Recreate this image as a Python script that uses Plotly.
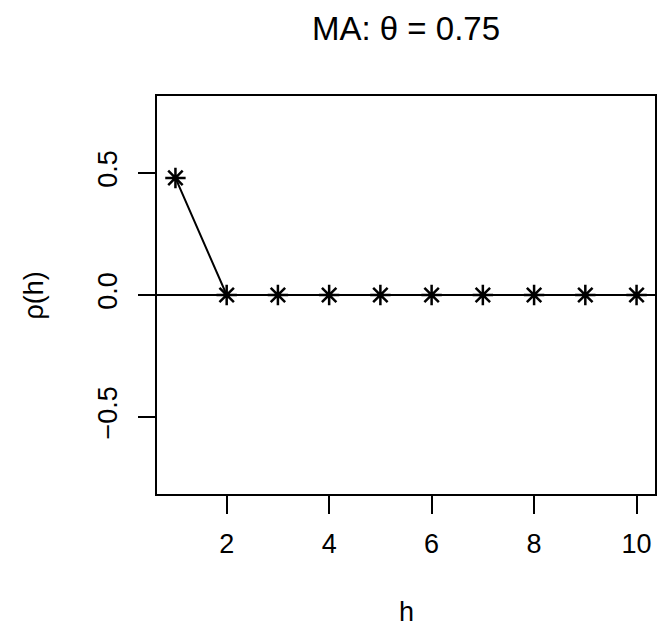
import plotly.graph_objects as go

# MA(1) autocorrelation function, theta = 0.75
lags = [1, 2, 3, 4, 5, 6, 7, 8, 9, 10]
acf_values = [0.48, 0.0, 0.0, 0.0, 0.0, 0.0, 0.0, 0.0, 0.0, 0.0]
x_ticks = [2, 4, 6, 8, 10]
y_ticks = [-0.5, 0.0, 0.5]
y_tick_text = ["\u22120.5", "0.0", "0.5"]

W, H = 658, 629
ML, MR, MT, MB = 157, 1, 96, 135
FONT = "Liberation Sans, Arial, Helvetica, sans-serif"

fig = go.Figure()

# horizontal reference line at zero
fig.add_shape(type="line", xref="paper", yref="y", x0=0, x1=1, y0=0, y1=0,
              line=dict(color="black", width=2), layer="above")

fig.add_trace(go.Scatter(
    x=lags, y=acf_values, mode="lines+markers",
    line=dict(color="black", width=2),
    marker=dict(symbol="asterisk-open", size=17, color="black",
                line=dict(color="black", width=2.5)),
    showlegend=False,
))

fig.update_layout(
    width=W, height=H,
    margin=dict(l=ML, r=MR, t=MT, b=MB),
    plot_bgcolor="white", paper_bgcolor="white",
    font=dict(family=FONT, color="black", size=27),
    title=dict(text="MA: \u03b8 = 0.75", x=0.5, xref="paper", xanchor="center",
               y=1 - 28 / H, yref="container", yanchor="middle",
               font=dict(size=33, family=FONT, color="black")),
    xaxis=dict(range=[0.64, 10.36], tickvals=x_ticks, ticks="outside",
               ticklen=18, tickwidth=2, tickcolor="black",
               showline=True, linecolor="black", linewidth=2, mirror=True,
               showgrid=False, zeroline=False, ticklabelstandoff=7,
               tickfont=dict(size=27)),
    yaxis=dict(range=[-0.816, 0.816], tickvals=y_ticks, ticktext=y_tick_text,
               ticks="outside", ticklen=17, tickwidth=2, tickcolor="black",
               showline=True, linecolor="black", linewidth=2, mirror=True,
               showgrid=False, zeroline=False, tickangle=-90,
               ticklabelstandoff=10, tickfont=dict(size=27)),
    annotations=[
        dict(text="h", xref="paper", yref="paper", x=0.5, y=-(612 - 494) / (494 - 96),
             xanchor="center", yanchor="middle", showarrow=False,
             font=dict(size=27, family=FONT)),
        dict(text="\u03c1(h)", xref="paper", yref="paper", x=-(157 - 34) / (657 - 157),
             y=0.5, xanchor="center", yanchor="middle", textangle=-90,
             showarrow=False, font=dict(size=27, family=FONT)),
    ],
)

fig.write_html("out.html")
